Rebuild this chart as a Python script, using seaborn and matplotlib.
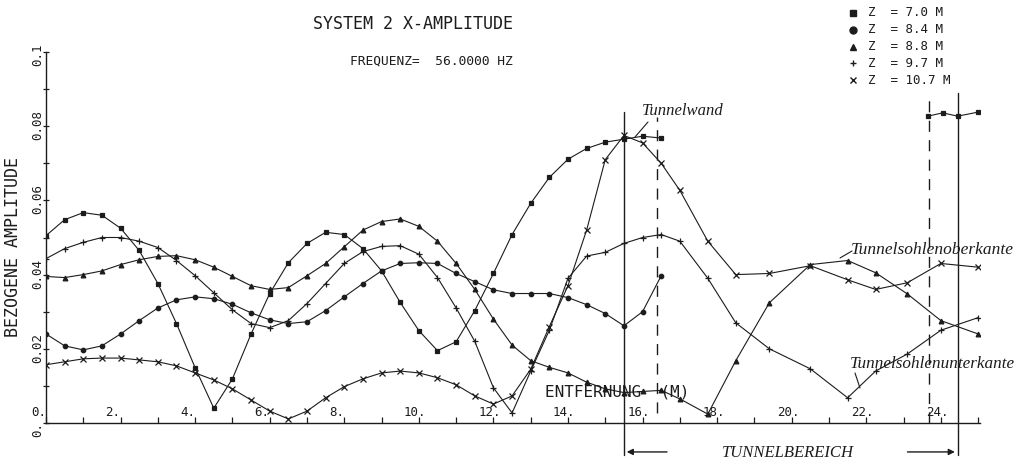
import matplotlib
matplotlib.use("Agg")
import matplotlib.pyplot as plt
import matplotlib.transforms as mtransforms
from matplotlib.lines import Line2D
import pandas as pd
import seaborn as sns

# station positions (m)
x_near = [0, 0.5, 1, 1.5, 2, 2.5, 3, 3.5, 4, 4.5, 5, 5.5, 6, 6.5, 7, 7.5, 8, 8.5,
          9, 9.5, 10, 10.5, 11, 11.5, 12, 12.5, 13, 13.5, 14, 14.5, 15, 15.5, 16, 16.5]
x_far = [17, 17.75, 18.5, 19.4, 20.5, 21.5, 22.25, 23.1, 24, 25]
x_top = [23.65, 24.05, 24.45, 25.0]

# Z = 7.0 M
amp_70 = [0.0505, 0.0548, 0.0567, 0.056, 0.0525, 0.0465, 0.0376, 0.0268, 0.0149, 0.004,
          0.0119, 0.024, 0.0349, 0.0432, 0.0484, 0.0514, 0.0508, 0.047, 0.041, 0.0325,
          0.0249, 0.0195, 0.0219, 0.0303, 0.0403, 0.0508, 0.0592, 0.0662, 0.0711, 0.074,
          0.0757, 0.0765, 0.0773, 0.0768]
amp_70_top = [0.0827, 0.0836, 0.0827, 0.0838]
# Z = 8.4 M
amp_84 = [0.024, 0.0208, 0.0197, 0.0208, 0.024, 0.0276, 0.031, 0.0332, 0.034, 0.0335,
          0.032, 0.0297, 0.0278, 0.0268, 0.0273, 0.0303, 0.034, 0.0376, 0.041, 0.043,
          0.0432, 0.043, 0.0403, 0.0381, 0.0359, 0.0349, 0.0349, 0.0349, 0.0338, 0.0319,
          0.0295, 0.0262, 0.030, 0.0397]
# Z = 8.8 M
amp_88 = [0.0395, 0.0392, 0.040, 0.041, 0.0427, 0.044, 0.0449, 0.0451, 0.044, 0.042,
          0.0395, 0.037, 0.036, 0.0365, 0.0397, 0.043, 0.0475, 0.052, 0.0543, 0.055,
          0.053, 0.049, 0.043, 0.036, 0.028, 0.021, 0.0168, 0.015, 0.0135, 0.011,
          0.0092, 0.0082, 0.0085, 0.0088]
amp_88_far = [0.0065, 0.0024, 0.0168, 0.0324, 0.0427, 0.0438, 0.0405, 0.0348, 0.0276, 0.024]
# Z = 9.7 M
amp_97 = [0.0443, 0.047, 0.0487, 0.050, 0.050, 0.049, 0.0473, 0.0438, 0.0397, 0.0351,
          0.0305, 0.0268, 0.0257, 0.0276, 0.0322, 0.0376, 0.043, 0.0462, 0.0476, 0.0478,
          0.0455, 0.0392, 0.031, 0.022, 0.0095, 0.0027, 0.014, 0.025, 0.039, 0.045,
          0.046, 0.0484, 0.050, 0.0508]
amp_97_far = [0.049, 0.039, 0.027, 0.020, 0.0146, 0.0068, 0.014, 0.0186, 0.025, 0.0284]
# Z = 10.7 M
amp_107 = [0.0157, 0.0165, 0.0173, 0.0175, 0.0175, 0.017, 0.0165, 0.0154, 0.0135, 0.0116,
           0.0092, 0.0062, 0.0032, 0.0011, 0.0032, 0.0068, 0.0098, 0.0119, 0.0135, 0.014,
           0.0135, 0.0122, 0.0103, 0.0073, 0.0051, 0.0073, 0.0145, 0.026, 0.037, 0.052,
           0.071, 0.0775, 0.0755, 0.070]
amp_107_far = [0.0627, 0.049, 0.040, 0.0403, 0.0424, 0.0386, 0.036, 0.0378, 0.043, 0.042]

legend_labels = ["Z  = 7.0 M", "Z  = 8.4 M", "Z  = 8.8 M", "Z  = 9.7 M", "Z  = 10.7 M"]
markers = ["s", "o", "^", "+", "x"]
msizes = [3.0, 3.2, 3.4, 4.5, 4.0]

rows = []
def add(name, seg, xs, ys):
    for a, b in zip(xs, ys):
        rows.append({"series": name, "seg": seg, "x": a, "amp": b})

add("7.0", "a", x_near, amp_70)
add("7.0", "b", x_top, amp_70_top)
add("8.4", "a", x_near, amp_84)
add("8.8", "a", x_near + x_far, amp_88 + amp_88_far)
add("9.7", "a", x_near + x_far, amp_97 + amp_97_far)
add("10.7", "a", x_near + x_far, amp_107 + amp_107_far)
df = pd.DataFrame(rows)

sns.set_theme(style="white")
plt.rcParams["font.family"] = ["DejaVu Sans Mono"]
INK = "#1c1c1c"
W, H = 1025, 466

def fp(px, py):
    return (px / W, 1 - py / H)

fig = plt.figure(figsize=(W / 100, H / 100), dpi=100)
ax = fig.add_axes([46 / W, 1 - 423 / H, 934 / W, 371 / H])

for name, mk, ms in zip(["7.0", "8.4", "8.8", "9.7", "10.7"], markers, msizes):
    sub = df[df["series"] == name]
    sns.lineplot(data=sub, x="x", y="amp", units="seg", estimator=None, ax=ax,
                 color=INK, lw=0.8, marker=mk, markersize=ms, markeredgewidth=0.9,
                 markeredgecolor=INK, markerfacecolor=INK, legend=False)

ax.set_xlim(0, 25.05)
ax.set_ylim(0, 0.1)
ax.set_xlabel("")
ax.set_ylabel("")
for s in ["top", "right"]:
    ax.spines[s].set_visible(False)
for s in ["left", "bottom"]:
    ax.spines[s].set_color(INK)
    ax.spines[s].set_linewidth(1.0)

ax.set_xticks(range(0, 26, 2))
ax.set_xticks(range(1, 26, 2), minor=True)
ax.set_yticks([0, 0.02, 0.04, 0.06, 0.08, 0.1])
ax.set_yticks([0.01, 0.03, 0.05, 0.07, 0.09], minor=True)
ax.tick_params(axis="x", which="both", direction="in", length=4, width=0.9,
               color=INK, labelbottom=False, bottom=True)
ax.tick_params(axis="y", which="both", direction="inout", length=5, width=0.9,
               color=INK, labelleft=False, left=True)

# x tick labels drawn above the axis line, plotter style
xoff = mtransforms.ScaledTranslation(-15 / 100, 10 / 100, fig.dpi_scale_trans)
for t in range(0, 26, 2):
    ax.text(t, 0, f"{t}.", transform=ax.get_xaxis_transform() + xoff,
            ha="left", va="center", fontsize=9, color=INK)

yoff = mtransforms.ScaledTranslation(-8 / 100, -14 / 100, fig.dpi_scale_trans)
for v, lab in zip([0, 0.02, 0.04, 0.06, 0.08, 0.1], ["0.", "0.02", "0.04", "0.06", "0.08", "0.1"]):
    ax.text(0, v, lab, transform=ax.get_yaxis_transform() + yoff, rotation=90,
            rotation_mode="anchor", ha="left", va="center", fontsize=9, color=INK)

# titles and axis labels
fig.text(*fp(413, 24), "SYSTEM 2 X-AMPLITUDE", ha="center", va="center", fontsize=12, color=INK)
fig.text(*fp(350, 61), "FREQUENZ=  56.0000 HZ", ha="left", va="center", fontsize=9.3, color=INK)
fig.text(*fp(13, 247), "BEZOGENE AMPLITUDE", rotation=90, ha="center", va="center",
         fontsize=12, color=INK)
fig.text(*fp(545, 392), "ENTFERNUNG  (M)", ha="left", va="center", fontsize=11.5, color=INK)

# legend block
for i, (lab, mk) in enumerate(zip(legend_labels, markers)):
    yy = 13 + 16.8 * i
    fig.add_artist(Line2D([853 / W], [1 - yy / H], marker=mk, markersize=5,
                          color=INK, markerfacecolor=INK, markeredgewidth=1, lw=0))
    fig.text(*fp(868, yy), lab, ha="left", va="center", fontsize=9, color=INK)

# tunnel limit lines
ax.plot([15.5, 15.5], [-0.0086, 0.0838], color=INK, lw=1.0, clip_on=False)
ax.plot([16.38, 16.38], [0.0027, 0.0825], color=INK, lw=1.0, ls=(0, (8, 6)), clip_on=False)
ax.plot([23.67, 23.67], [0.0, 0.089], color=INK, lw=1.0, ls=(0, (8, 6)), clip_on=False)
ax.plot([24.45, 24.45], [-0.0086, 0.089], color=INK, lw=1.0, clip_on=False)
ax.annotate("", xy=(15.5, -0.0078), xytext=(16.73, -0.0078), annotation_clip=False,
            arrowprops=dict(arrowstyle="-|>", color=INK, lw=1.0, mutation_scale=9))
ax.annotate("", xy=(24.45, -0.0078), xytext=(23.03, -0.0078), annotation_clip=False,
            arrowprops=dict(arrowstyle="-|>", color=INK, lw=1.0, mutation_scale=9))

# handwritten notes
hand = dict(family="Liberation Serif", style="italic", color=INK)
fig.text(*fp(788, 453), "TUNNELBEREICH", ha="center", va="center", fontsize=12, **hand)
fig.text(*fp(642, 111), "Tunnelwand", ha="left", va="center", fontsize=12, **hand)
fig.text(*fp(851, 250), "Tunnelsohlenoberkante", ha="left", va="center", fontsize=12.5, **hand)
fig.text(*fp(850, 364), "Tunnelsohlenunterkante", ha="left", va="center", fontsize=12.3, **hand)
for (x0, y0), (x1, y1) in [((648, 122), (635, 137)), ((852, 251), (840, 258)),
                           ((855, 373), (860, 388))]:
    fig.add_artist(Line2D([x0 / W, x1 / W], [1 - y0 / H, 1 - y1 / H], color=INK, lw=0.8))

fig.savefig("out.png", dpi=100, facecolor="white")
